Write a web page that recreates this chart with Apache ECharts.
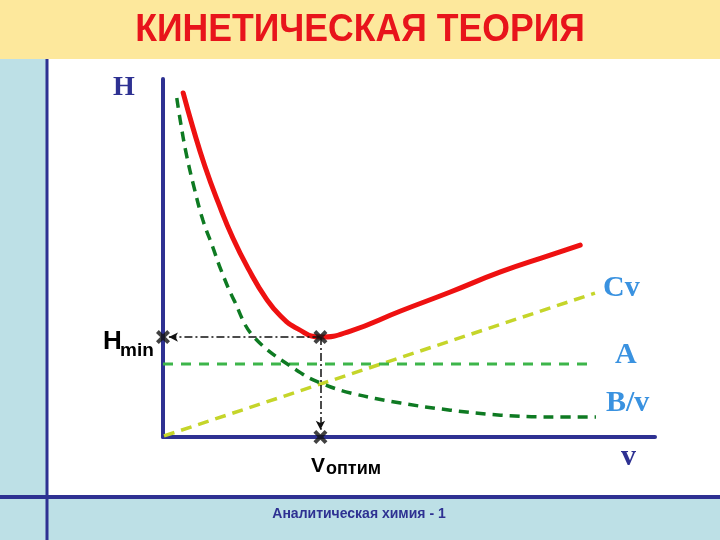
<!DOCTYPE html>
<html>
<head>
<meta charset="utf-8">
<script src="https://cdn.jsdelivr.net/npm/echarts@6/dist/echarts.min.js"></script>
<style>
html,body{margin:0;padding:0;background:#fff;}
#chart{width:720px;height:540px;}
</style>
</head>
<body>
<div id="chart"></div>
<script>
// Values (v on x, H on y, both 0..100 relative units)
const redCurve = [[4.1,96.1],[6.1,86.3],[8.5,75.7],[11.2,65.6],[14.2,55.6],[17.5,46.6],[20.9,38.8],[23.9,33.8],[27.4,30.2],[32.0,27.9],[38.1,29.6],[48.3,35.2],[58.4,40.5],[68.6,46.1],[78.7,50.8],[84.8,53.6]];
const bCurve = [[2.8,94.7],[3.5,88.5],[4.7,79.3],[6.3,69.8],[8.1,60.6],[10.1,53.1],[11.8,46.6],[14.4,38.3],[18.5,27.9],[28.0,17.9],[32.0,15.1],[38.1,12.3],[48.3,9.5],[58.4,7.5],[68.6,6.1],[78.7,5.6],[88.0,5.6]];
const aLine = [[0,20.4],[87.8,20.4]];
const cvLine = [[0.2,0.3],[87.8,40.2]];
const optimum = [32.0, 27.9];
const crossPoints = [[0,27.9],[32.0,27.9],[32.0,0]];
const titleText = 'КИНЕТИЧЕСКАЯ ТЕОРИЯ';
const footerText = 'Аналитическая химия - 1';

const crossPath = 'path://M0,2 L2,0 L5,3 L8,0 L10,2 L7,5 L10,8 L8,10 L5,7 L2,10 L0,8 L3,5 Z';
const navy = '#2E3192';
const lblBlue = '#3A92E0';
const serif = "'Liberation Serif','DejaVu Serif',serif";
const sans = "'Liberation Sans',Arial,sans-serif";

const chart = echarts.init(document.getElementById('chart'), null, {renderer:'canvas'});
chart.setOption({
  animation: false,
  backgroundColor: 'transparent',
  grid: {left:163, top:79, width:492, height:358},
  xAxis: {type:'value', min:0, max:100, axisLine:{show:true, onZero:false, lineStyle:{color:navy, width:4}}, axisTick:{show:false}, axisLabel:{show:false}, splitLine:{show:false}},
  yAxis: {type:'value', min:0, max:100, axisLine:{show:true, onZero:false, lineStyle:{color:navy, width:4}}, axisTick:{show:false}, axisLabel:{show:false}, splitLine:{show:false}},
  graphic: [
    {type:'rect', z:-100, silent:true, shape:{x:0,y:0,width:720,height:59}, style:{fill:'#FDE89C'}},
    {type:'rect', z:-100, silent:true, shape:{x:0,y:59,width:46,height:481}, style:{fill:'#BDE0E6'}},
    {type:'rect', z:-100, silent:true, shape:{x:0,y:497,width:720,height:43}, style:{fill:'#BDE0E6'}},
    {type:'rect', z:-99, silent:true, shape:{x:45.5,y:59,width:3,height:481}, style:{fill:navy}},
    {type:'rect', z:-99, silent:true, shape:{x:0,y:495,width:720,height:4}, style:{fill:navy}},
    {type:'text', z:10, x:360, y:30, scaleX:0.913, style:{text:titleText, fill:'#E8141B', font:'bold 39px '+sans, align:'center', verticalAlign:'middle'}},
    {type:'text', z:10, x:359, y:514, style:{text:footerText, fill:navy, font:'bold 14px '+sans, align:'center', verticalAlign:'middle'}},
    {type:'text', z:10, x:113, y:88, style:{text:'H', fill:navy, font:'bold 28px '+serif, verticalAlign:'middle'}},
    {type:'text', z:10, x:621, y:457, style:{text:'v', fill:navy, font:'bold 30px '+serif, verticalAlign:'middle'}},
    {type:'text', z:10, x:103, y:342, style:{text:'H', fill:'#000', font:'bold 26px '+sans, verticalAlign:'middle'}},
    {type:'text', z:10, x:120, y:351, style:{text:'min', fill:'#000', font:'bold 19px '+sans, verticalAlign:'middle'}},
    {type:'text', z:10, x:311, y:466, style:{text:'V', fill:'#000', font:'bold 21px '+sans, verticalAlign:'middle'}},
    {type:'text', z:10, x:326, y:469, style:{text:'оптим', fill:'#000', font:'bold 18px '+sans, verticalAlign:'middle'}}
  ],
  series: [
    {name:'Cv', type:'line', data:cvLine, showSymbol:false, z:3,
     lineStyle:{color:'#C5D52A', width:3.5, type:[11,7]},
     endLabel:{show:true, formatter:'Cv', color:lblBlue, fontFamily:serif, fontWeight:'bold', fontSize:30, offset:[0,-5]}},
    {name:'A', type:'line', data:aLine, showSymbol:false, z:3,
     lineStyle:{color:'#3DB54A', width:3, type:[10,8]},
     endLabel:{show:true, formatter:'A', color:lblBlue, fontFamily:serif, fontWeight:'bold', fontSize:30, offset:[12,-9]}},
    {name:'B/v', type:'line', data:bCurve, showSymbol:false, smooth:0.4, z:3,
     lineStyle:{color:'#0E7A22', width:3.5, type:[10,7]},
     endLabel:{show:true, formatter:'B/v', color:lblBlue, fontFamily:serif, fontWeight:'bold', fontSize:30, offset:[2,-14]}},
    {name:'H', type:'line', data:redCurve, showSymbol:false, smooth:0.5, z:4,
     lineStyle:{color:'#EE1111', width:5, cap:'round'}},
    {name:'opt', type:'scatter', data:crossPoints, symbol:crossPath, symbolSize:14, z:6,
     itemStyle:{color:'#111'},
     markLine:{silent:true, symbol:['none','arrow'], symbolSize:[7,9], label:{show:false},
       lineStyle:{color:'#111', width:1.5, type:[8,3,2,3]},
       data:[
         [{coord:[optimum[0], optimum[1]]},{coord:[1.2, optimum[1]]}],
         [{coord:[optimum[0], optimum[1]]},{coord:[optimum[0], 2.0]}]
       ]}}
  ]
});
</script>
</body>
</html>
